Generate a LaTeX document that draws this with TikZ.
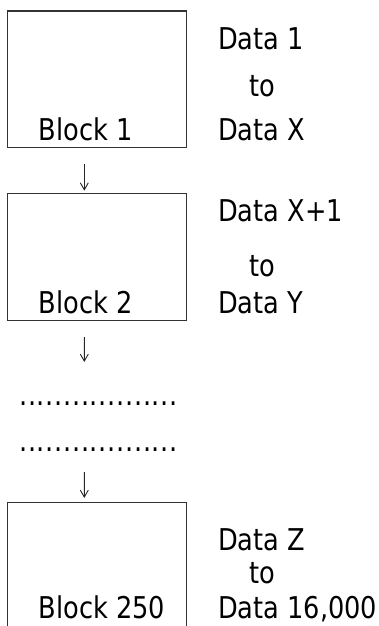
\documentclass[tikz,border=0pt]{standalone}
\usepackage{fontspec}
\setmainfont[FakeStretch=0.855]{DejaVu Sans}
\usepackage{tikz}
\usetikzlibrary{arrows.meta}

\begin{document}
\begin{tikzpicture}[x=1bp, y=-1bp, >={Straight Barb[length=7bp,width=8bp]},
    font=\fontsize{30bp}{36bp}\selectfont]
    \tikzstyle{blockbox}=[draw=black!80, line width=1.1bp, anchor=north west,
      minimum width=179.5bp, minimum height=136.5bp, inner sep=0pt]
    \tikzstyle{lbl}=[anchor=base west, inner sep=0pt]
    \tikzstyle{mid}=[anchor=base, inner sep=0pt]
    \tikzstyle{flow}=[->, draw=black!85, line width=0.9bp]
    \useasboundingbox (0,0) rectangle (378,626);

    % memory blocks
    \node[blockbox] (blk1) at (6.5,10.5) {};
    \node[blockbox, minimum height=127bp] (blk2) at (6.5,193) {};
    \node[blockbox, minimum height=140bp] (blk3) at (6.5,502) {};

    \node[lbl] (name1) at (38.5,140.7) {Block 1};
    \node[lbl] (name2) at (38.5,313.3) {Block 2};
    \node[lbl] (name3) at (38.5,618.3) {Block 250};

    % data ranges
    \node[lbl] (from1) at (218,50) {Data 1};
    \node[mid] (to1) at (262,96.7) {to};
    \node[lbl] (upto1) at (218,140.7) {Data X};

    \node[lbl] (from2) at (218,221.7) {Data X+1};
    \node[mid] (to2) at (262,276.7) {to};
    \node[lbl] (upto2) at (218,313.3) {Data Y};

    \node[lbl] (from3) at (218,550) {Data Z};
    \node[mid] (to3) at (262,583.3) {to};
    \node[lbl] (upto3) at (218,618.3) {Data 16,000};

    % skipped blocks
    \node[lbl] (dotsA) at (19,405.2) {\addfontfeature{LetterSpace=2.3}..................};
    \node[lbl] (dotsB) at (19,451.2) {\addfontfeature{LetterSpace=2.3}..................};

    \draw[flow, shorten <=16bp, shorten >=2.3bp]
      ([xshift=77.8bp]blk1.south west) -- ([xshift=77.8bp]blk2.north west);
    \draw[flow, shorten <=16bp, shorten >=43.2bp]
      ([xshift=77.8bp]blk2.south west) -- ([xshift=65.3bp]dotsA.base west);
    \draw[flow, shorten <=20.8bp, shorten >=4bp]
      ([xshift=65.3bp]dotsB.base west) -- ([xshift=77.8bp]blk3.north west);
  \end{tikzpicture}
\end{document}
